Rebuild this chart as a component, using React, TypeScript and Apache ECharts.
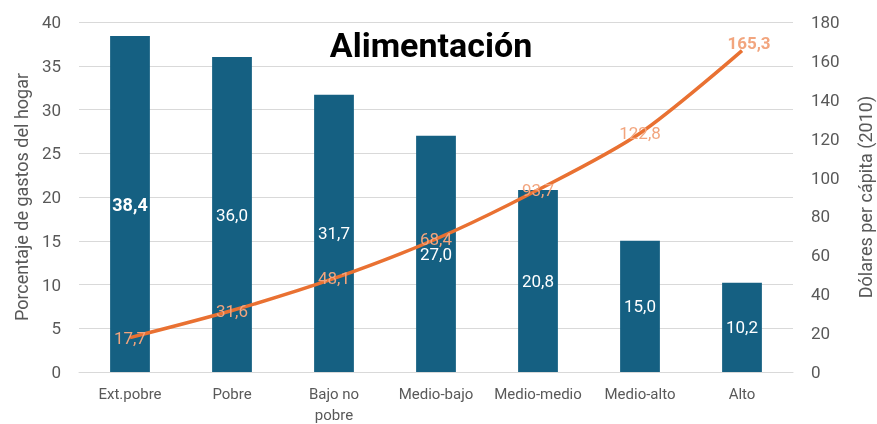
import React, { useEffect, useRef } from "react";
import * as echarts from "echarts";

const categories = ["Ext.pobre", "Pobre", "Bajo no\npobre", "Medio-bajo", "Medio-medio", "Medio-alto", "Alto"];
const porcentaje = [38.4, 36.0, 31.7, 27.0, 20.8, 15.0, 10.2];
const dolares = [17.7, 31.6, 48.1, 68.4, 93.7, 122.8, 165.3];
const leftTicks = { min: 0, max: 40, interval: 5 };
const rightTicks = { min: 0, max: 180, interval: 20 };

const FONT = "Roboto, 'Liberation Sans', sans-serif";
const fmt = (v: number) => v.toFixed(1).replace(".", ",");

export default function App() {
  const ref = useRef<HTMLDivElement>(null);
  useEffect(() => {
    if (!ref.current) return;
    const chart = echarts.init(ref.current, undefined, { renderer: "svg" });
    chart.setOption({
      animation: false,
      textStyle: { fontFamily: FONT },
      title: {
        text: "Alimentación",
        left: 426,
        top: 23,
        textAlign: "center",
        textStyle: { fontSize: 34, fontWeight: "bold", color: "#000", fontFamily: FONT },
      },
      grid: { left: 79, right: 84, top: 22, bottom: 52, outerBoundsMode: "none", containLabel: false },
      xAxis: {
        type: "category",
        data: categories,
        axisLine: { lineStyle: { color: "#D9D9D9" } },
        axisTick: { show: false },
        axisLabel: { color: "#595959", fontSize: 15, lineHeight: 21, margin: 11, interval: 0 },
      },
      yAxis: [
        {
          type: "value",
          ...leftTicks,
          name: "Porcentaje de gastos del hogar",
          nameLocation: "middle",
          nameGap: 48,
          nameTextStyle: { color: "#595959", fontSize: 18 },
          axisLabel: { color: "#595959", fontSize: 17, margin: 18 },
          splitLine: { lineStyle: { color: "#D9D9D9" } },
          axisLine: { show: false },
        },
        {
          type: "value",
          ...rightTicks,
          name: "Dólares per cápita (2010)",
          nameLocation: "middle",
          nameGap: 63,
          nameTextStyle: { color: "#595959", fontSize: 18 },
          axisLabel: { color: "#595959", fontSize: 17, margin: 18 },
          splitLine: { show: false },
          axisLine: { show: false },
        },
      ],
      series: [
        {
          type: "bar",
          yAxisIndex: 0,
          barWidth: "39%",
          itemStyle: { color: "#156082" },
          label: {
            show: true,
            position: "inside",
            color: "#fff",
            fontSize: 17,
            formatter: (p: any) => fmt(p.value),
          },
          data: porcentaje.map((v, i) =>
            i === 0 ? { value: v, label: { fontWeight: "bold", fontSize: 18 } } : v
          ),
          z: 1,
        },
        {
          type: "line",
          yAxisIndex: 1,
          smooth: 0.3,
          symbol: "circle",
          symbolSize: 1,
          showSymbol: true,
          itemStyle: { color: "rgba(0,0,0,0)" },
          lineStyle: { color: "#E97132", width: 3.5 },
          label: {
            show: true,
            position: "inside",
            color: "#F2A57E",
            fontSize: 17,
            formatter: (p: any) => fmt(p.value),
          },
          data: dolares.map((v, i) =>
            i === dolares.length - 1
              ? { value: v, label: { fontWeight: "bold", offset: [7, -8] } }
              : v
          ),
          z: 3,
        },
      ],
    });
    return () => chart.dispose();
  }, []);
  return <div ref={ref} style={{ position: "fixed", left: 0, top: 0, width: 877, height: 424 }} />;
}
